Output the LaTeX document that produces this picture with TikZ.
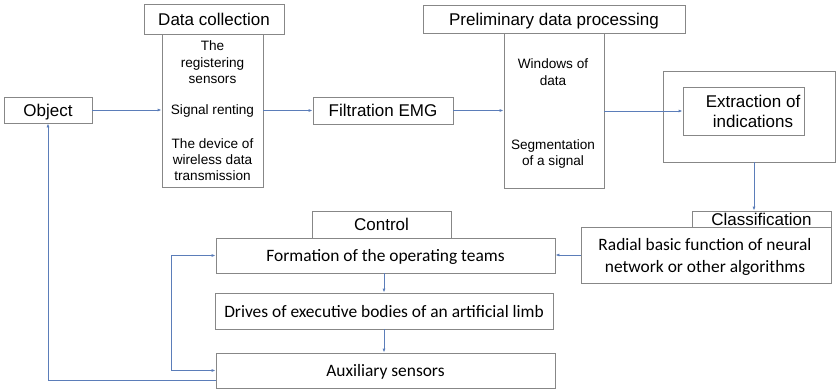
\documentclass[tikz,border=0pt]{standalone}
\usepackage{fontspec}
\setmainfont{Liberation Sans}
\newfontfamily\calfont{Carlito}
\usetikzlibrary{arrows.meta,positioning}
\definecolor{boxgray}{RGB}{135,135,135}
\definecolor{linkblue}{RGB}{91,125,185}

\begin{document}
\begin{tikzpicture}[x=1pt, y=-1pt,
  every node/.style={inner sep=0pt, text=black},
  box/.style={draw=boxgray, line width=0.8pt},
  big/.style={font=\fontsize{17}{20}\selectfont},
  small/.style={font=\fontsize{13.6}{16.3}\selectfont, align=center},
  cal/.style={font=\calfont\fontsize{17.4}{22}\selectfont, align=center},
  oneline/.style={text height=12.3pt, text depth=0pt},
  link/.style={draw=linkblue, line width=0.8pt, -{Latex[length=4pt,width=3pt]}}]
  \useasboundingbox (0,0) rectangle (836,389);

  % Data collection
  \node[box, big, oneline, minimum width=140pt, minimum height=30pt] (colltitle) at (214,19) {Data collection};
  \node[box, minimum width=101pt, minimum height=153pt] (coll) at (212.5,110.5) {};
  \node[small] (sensors) at (212.5,62.3) {The\\registering\\sensors};
  \node[small] (renting) at (212.5,111) {Signal renting};
  \node[small] (device) at (212.5,159.5) {The device of\\wireless data\\transmission};

  % Object and filtration
  \node[box, big, oneline, minimum width=88pt, minimum height=26pt] (object) at (48,110) {Object};
  \node[box, big, oneline, minimum width=140pt, minimum height=27pt] (filt) at (383,110.5) {Filtration EMG};

  % Preliminary data processing
  \node[box, big, oneline, minimum width=262pt, minimum height=28pt] (preptitle) at (554,19) {Preliminary data processing};
  \node[box, minimum width=100pt, minimum height=155pt] (prep) at (554,110.5) {};
  \node[small] (windows) at (553,72) {Windows of\\data};
  \node[small] (segment) at (553,154) {Segmentation\\of a signal};

  % Extraction of indications
  \node[box, minimum width=172pt, minimum height=91pt] (extrouter) at (749,116.5) {};
  \node[box, minimum width=121pt, minimum height=48pt] (extr) at (743.5,111) {};
  \node[big, align=center] (extrtext) at (753,111) {Extraction of\\indications};

  % Classification
  \node[box, big, oneline, minimum width=139pt, minimum height=16pt] (clstitle) at (761.5,219) {Classification};
  \node[box, cal, minimum width=250pt, minimum height=56pt] (radial) at (706,255) {};
  \node[cal] (radialtext) at (705,257) {Radial basic function of neural\\network or other algorithms};

  % Control
  \node[box, big, oneline, minimum width=139pt, minimum height=27pt] (ctrltitle) at (381.5,224.5) {Control};
  \node[box, cal, oneline, minimum width=339pt, minimum height=35pt] (form) at (385.5,255.5) {Formation of the operating teams};
  \node[box, cal, oneline, minimum width=338pt, minimum height=36pt] (drives) at (384,311) {Drives of executive bodies of an artificial limb};
  \node[box, cal, oneline, minimum width=339pt, minimum height=35pt] (aux) at (385.5,370.5) {Auxiliary sensors};

  % Connectors
  \draw[link] (object.east) -- (object.east -| coll.west);
  \draw[link] (coll.east |- filt.west) -- (filt.west);
  \draw[link] (filt.east) -- (filt.east -| prep.west);
  \draw[link] (prep.east |- extr.west) -- (extr.west);
  \draw[link] ([xshift=-7.5pt]clstitle.north |- extrouter.south) -- ([xshift=-7.5pt]clstitle.north);
  \draw[link] (radial.west) -- (radial.west -| form.east);
  \draw[link] (form.south -| 384,0) -- (drives.north -| 384,0);
  \draw[link] (drives.south) -- (drives.south |- aux.north);
  \draw[link, {Latex[length=4pt,width=3pt]}-{Latex[length=4pt,width=3pt]}] (form.west) -- ++(-44,0) |- (aux.west);
  \draw[link] ([yshift=-9.5pt]aux.west) -| (object.south);
\end{tikzpicture}
\end{document}
